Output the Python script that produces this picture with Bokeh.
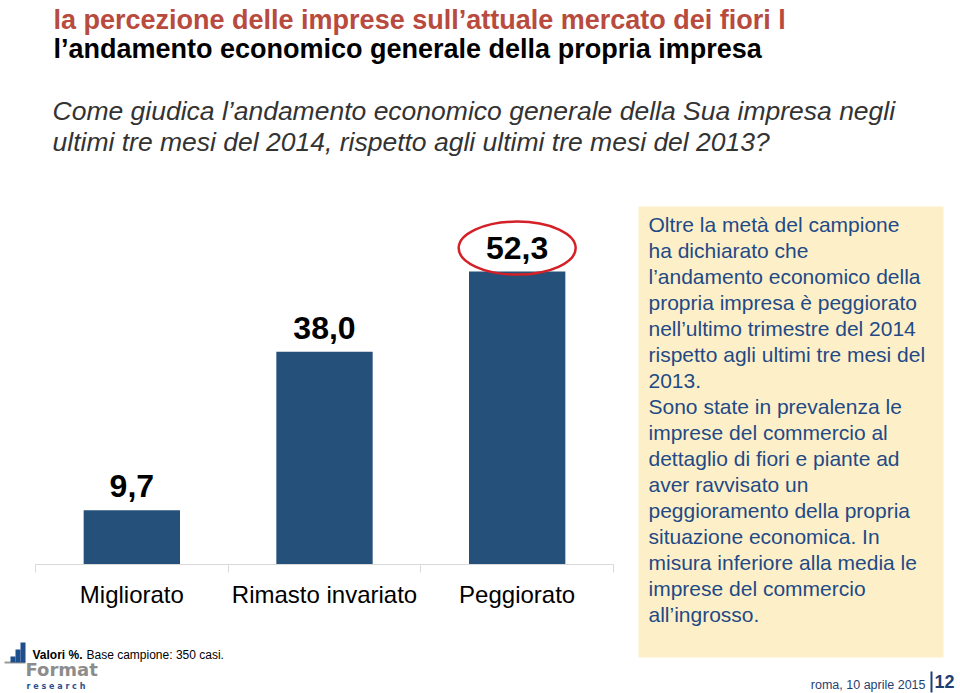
from bokeh.plotting import figure
from bokeh.models import (Range1d, LinearAxis, FixedTicker, Label, BoxAnnotation, ColumnDataSource)
from bokeh.embed import file_html
from bokeh.resources import INLINE
from bokeh.core.properties import value

# ---------------- data ----------------
categories = ["Migliorato", "Rimasto invariato", "Peggiorato"]
values = [9.7, 38.0, 52.3]
value_labels = ["9,7", "38,0", "52,3"]
highlight = "Peggiorato"

title_lines = [
    "la percezione delle imprese sull\u2019attuale mercato dei fiori l",
    "l\u2019andamento economico generale della propria impresa",
]
question_lines = [
    "Come giudica l\u2019andamento economico generale della Sua impresa negli",
    "ultimi tre mesi del 2014, rispetto agli ultimi tre mesi del 2013?",
]
note_lines = [
    "Oltre la met\u00e0 del campione",
    "ha dichiarato che",
    "l\u2019andamento economico della",
    "propria impresa \u00e8 peggiorato",
    "nell\u2019ultimo trimestre del 2014",
    "rispetto agli ultimi tre mesi del",
    "2013.",
    "Sono state in prevalenza le",
    "imprese del commercio al",
    "dettaglio di fiori e piante ad",
    "aver ravvisato un",
    "peggioramento della propria",
    "situazione economica. In",
    "misura inferiore alla media le",
    "imprese del commercio",
    "all\u2019ingrosso.",
]
footnote_bold = "Valori %."
footnote = "Base campione: 350 casi."
footer_date = "roma, 10 aprile 2015"
page_number = "12"
logo_main = "Format"
logo_sub = "r e s e a r c h"

# ---------------- layout / styling ----------------
FONT = "Liberation Sans"
BAR = "#24507A"
RED_TITLE = "#B84A3E"
NAVY = "#1F3F73"
W, H = 960, 693
AX_LEFT, AX_RIGHT = 35, 613     # pixel extent of the category axis
BASE = 564                      # pixel row of the value 0
PX = 5.6                        # px per percentage point

n = len(categories)
slot = (AX_RIGHT - AX_LEFT) / n
centers = [i + 0.5 for i in range(n)]
src = ColumnDataSource(dict(x=centers, v=values, lbl=value_labels,
                            ly=[v + 24 / PX for v in values]))

p = figure(width=W, height=H,
           x_range=Range1d(-AX_LEFT / slot, (W - AX_LEFT) / slot),
           y_range=Range1d(-(H - BASE) / PX, BASE / PX),
           x_axis_location=None, y_axis_location=None, title_location=None,
           toolbar_location=None, output_backend="svg",
           min_border=0, outline_line_color=None,
           background_fill_color="white", border_fill_color="white")
p.xgrid.visible = False
p.ygrid.visible = False

xaxis = LinearAxis(ticker=FixedTicker(ticks=centers, minor_ticks=list(range(n + 1))),
                   major_label_overrides={c: name for c, name in zip(centers, categories)},
                   fixed_location=0, bounds=(0, n),
                   axis_line_color="#D9D9D9", major_tick_line_color=None,
                   major_tick_in=0, major_tick_out=0,
                   minor_tick_in=0, minor_tick_out=8, minor_tick_line_color="#D9D9D9",
                   major_label_standoff=8, major_label_text_font=FONT,
                   major_label_text_font_size="24px", major_label_text_color="black")
p.add_layout(xaxis, "below")

p.vbar(x="x", top="v", width=0.5, source=src, fill_color=BAR, line_color=None)
p.text(x="x", y="ly", text="lbl", source=src, text_align="center", text_baseline="alphabetic",
       text_font=value(FONT), text_font_style="bold", text_font_size="32px",
       text_color="black")
hi = categories.index(highlight)
p.ellipse(x=[centers[hi]], y=[values[hi] + 4.2], width=117, height=53,
          width_units="screen", height_units="screen",
          fill_color=None, line_color="#D42027", line_width=2.5)


def sx(X):
    return X


def sy(Y):
    return H - Y


def lab(text, X, Y, size, color, style="normal", align="left", font=FONT):
    p.add_layout(Label(x=sx(X), y=sy(Y), x_units="screen", y_units="screen", text=text,
                       text_font=font, text_font_size=f"{size}px", text_font_style=style,
                       text_color=color, text_align=align, text_baseline="alphabetic"))


def box(l, r, t, b, color):
    p.add_layout(BoxAnnotation(left=sx(l), right=sx(r), top=sy(t), bottom=sy(b),
                               left_units="screen", right_units="screen",
                               top_units="screen", bottom_units="screen",
                               fill_color=color, fill_alpha=1, line_color=None,
                               level="underlay"))


# header
lab(title_lines[0], 53, 19, 27, RED_TITLE, "bold")
lab(title_lines[1], 53, 48, 27, "black", "bold")
lab(question_lines[0], 52, 110, 26.5, "#333333", "italic")
lab(question_lines[1], 52, 141, 26.5, "#333333", "italic")

# side note
box(638, 943, 206, 657, "#FDF0C9")
for i, line in enumerate(note_lines):
    lab(line, 648, 224 + 26 * i, 21, "#1F4A86")

# footer
box(4, 25, 661, 663, "#9A9A9A")
box(10, 15, 656, 662, "#1F4E8C")
box(15, 20, 649, 662, "#1F4E8C")
box(20, 25, 642, 662, "#1F4E8C")
lab(footnote_bold, 32, 654, 12, "black", "bold")
lab(footnote, 86, 654, 12, "black")
lab(logo_main, 25, 669, 18, "#8C8C8C", "bold", font="DejaVu Sans")
lab(logo_sub, 26, 686, 8, "#2E4E8E", "bold", font="DejaVu Sans")
lab(footer_date, 925, 684, 12.5, NAVY, align="right")
box(930, 932, 671, 692, NAVY)
lab(page_number, 954, 681, 18, NAVY, "bold", align="right")

open("out.html", "w").write(file_html(p, INLINE))
